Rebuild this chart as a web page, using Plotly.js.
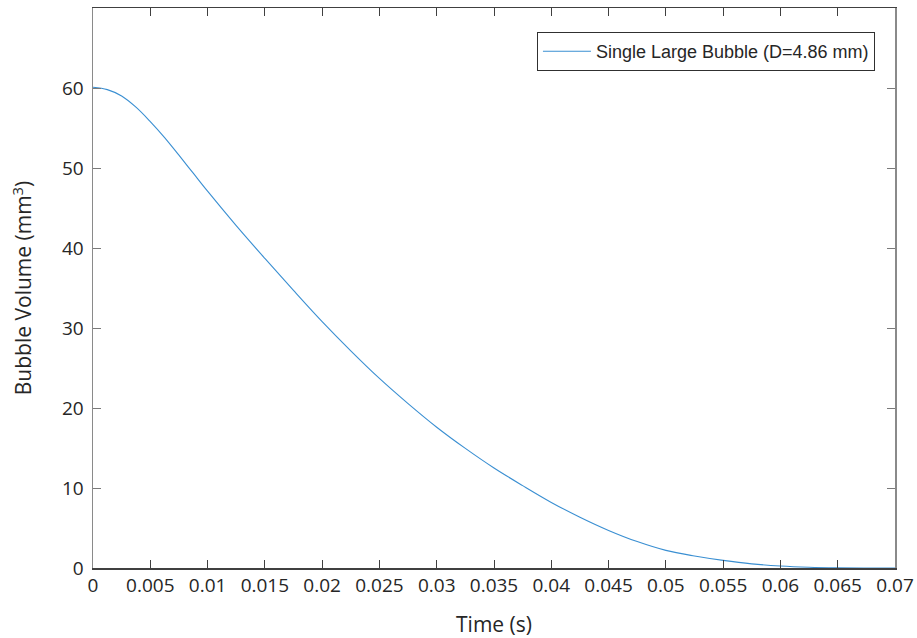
<!DOCTYPE html>
<html>
<head>
<meta charset="utf-8">
<script src="https://cdn.plot.ly/plotly-3.0.1.min.js"></script>
<style>
  html, body { margin: 0; padding: 0; background: #ffffff; }
  #chart { width: 917px; height: 638px; }
</style>
</head>
<body>
<div id="chart"></div>
<script>
// Bubble volume during collapse (denser samples over the first 10 ms, where it bends most)
const timeS = [0, 0.00125, 0.0025, 0.00375, 0.005, 0.00625, 0.0075, 0.00875, 0.01,
               0.0125, 0.015, 0.0175, 0.02, 0.0225,
               0.025, 0.0275, 0.03, 0.0325, 0.035, 0.0375, 0.04, 0.0425, 0.045, 0.0475,
               0.05, 0.0525, 0.055, 0.0575, 0.06, 0.0625, 0.065, 0.0675, 0.07];
const volumeMm3 = [60.1, 59.8, 59.0, 57.6, 55.8, 53.8, 51.6, 49.35, 47.1,
                   42.8, 38.7, 34.7, 30.8, 27.15,
                   23.7, 20.55, 17.6, 14.95, 12.5, 10.3, 8.2, 6.35, 4.7, 3.3,
                   2.2, 1.5, 0.95, 0.52, 0.25, 0.1, 0.03, 0.005, 0];

const xTickVals = [0, 0.005, 0.01, 0.015, 0.02, 0.025, 0.03, 0.035, 0.04, 0.045, 0.05, 0.055, 0.06, 0.065, 0.07];
const xTickText = ['0', '0.005', '0.01', '0.015', '0.02', '0.025', '0.03', '0.035', '0.04', '0.045', '0.05', '0.055', '0.06', '0.065', '0.07'];
const yTickVals = [0, 10, 20, 30, 40, 50, 60];

const seriesName = 'Single Large Bubble (D=4.86 mm)';

const axisFont = { family: 'Open Sans, Liberation Sans, sans-serif', size: 19, color: '#262626' };
const titleFont = { family: 'Open Sans, sans-serif', size: 21, color: '#262626' };

const traces = [{
  x: timeS,
  y: volumeMm3,
  type: 'scatter',
  mode: 'lines',
  name: seriesName,
  line: { color: '#3a8fd2', width: 1.1, shape: 'spline', smoothing: 1 }
}];

const layout = {
  width: 917,
  height: 638,
  margin: { l: 93, r: 22, t: 8, b: 70 },
  paper_bgcolor: '#ffffff',
  plot_bgcolor: '#ffffff',
  showlegend: true,
  legend: {
    x: 0.975, y: 0.957, xanchor: 'right', yanchor: 'top',
    bgcolor: '#ffffff',
    bordercolor: '#303030',
    borderwidth: 1,
    itemwidth: 48,
    font: { family: 'Liberation Sans, Arial, sans-serif', size: 18, color: '#262626' }
  },
  xaxis: {
    range: [0, 0.07],
    tickvals: xTickVals,
    ticktext: xTickText,
    ticks: 'inside',
    ticklen: 8,
    tickwidth: 1,
    tickcolor: '#404040',
    showline: true,
    linecolor: '#404040',
    linewidth: 1.5,
    mirror: 'ticks',
    showgrid: false,
    zeroline: false,
    tickfont: axisFont,
    title: { text: 'Time (s)', font: titleFont, standoff: 20 }
  },
  yaxis: {
    range: [0, 70],
    tickvals: yTickVals,
    ticks: 'inside',
    ticklen: 8,
    tickwidth: 1,
    tickcolor: '#7a7a7a',
    showline: true,
    linecolor: '#8a8a8a',
    linewidth: 1.5,
    mirror: 'ticks',
    showgrid: false,
    zeroline: false,
    tickfont: axisFont,
    ticklabelstandoff: 4,
    title: { text: 'Bubble Volume (mm<sup>3</sup>)', font: titleFont, standoff: 24 }
  }
};

Plotly.newPlot('chart', traces, layout, { displayModeBar: false, staticPlot: true });
</script>
</body>
</html>
